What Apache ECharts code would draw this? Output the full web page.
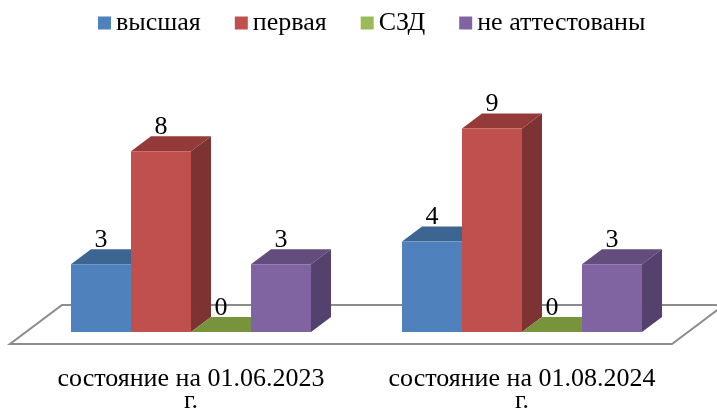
<!DOCTYPE html>
<html>
<head>
<meta charset="utf-8">
<script src="https://cdn.jsdelivr.net/npm/echarts@6/dist/echarts.min.js"></script>
<style>
html,body{margin:0;padding:0;background:#fff;}
#chart{width:717px;height:419px;}
</style>
</head>
<body>
<div id="chart"></div>
<script>
const categories = ['состояние на 01.06.2023 г.', 'состояние на 01.08.2024 г.'];
const seriesNames = ['высшая', 'первая', 'СЗД', 'не аттестованы'];
const vysshaya = [3, 4];
const pervaya = [8, 9];
const szd = [0, 0];
const neAttest = [3, 3];
const seriesValues = [vysshaya, pervaya, szd, neAttest];

const FONT = '"Liberation Serif", "Times New Roman", serif';
const palette = [
  {front: '#4F81BD', top: '#3C6592', side: '#385E8C'},
  {front: '#C0504D', top: '#943B39', side: '#7D3331'},
  {front: '#9BBB59', top: '#77933C', side: '#6B8535'},
  {front: '#8064A2', top: '#624D7D', side: '#54416D'}
];
const DX = 20, DY = 15;

const chart = echarts.init(document.getElementById('chart'), null, {renderer: 'canvas'});

function barRender(sIdx) {
  return function (params, api) {
    const cat = api.value(0), val = api.value(1);
    const base = api.coord([cat, 0]);
    const top = api.coord([cat, val]);
    const band = api.size([1, 0])[0];
    const bw = band * 0.1813;
    const x0 = base[0] - bw * 2 + sIdx * bw;
    const x1 = x0 + bw;
    const yb = base[1], yt = top[1];
    const c = palette[sIdx];
    const children = [];
    children.push({type: 'polygon', shape: {points: [[x0, yt], [x1, yt], [x1 + DX, yt - DY], [x0 + DX, yt - DY]]},
      style: {fill: c.top}});
    if (yb - yt > 0.5) {
      children.push({type: 'polygon', shape: {points: [[x1, yt], [x1 + DX, yt - DY], [x1 + DX, yb - DY], [x1, yb]]},
        style: {fill: c.side}});
      children.push({type: 'rect', shape: {x: x0, y: yt, width: bw, height: yb - yt},
        style: {fill: c.front}});
    }
    children.push({type: 'text', x: (x0 + x1) / 2, y: yt - DY + 4,
      style: {text: String(val), font: '26px ' + FONT, fill: '#000', align: 'center', verticalAlign: 'bottom'}});
    return {type: 'group', children: children};
  };
}

const series = [{
  type: 'custom',
  name: '__floor',
  silent: true,
  data: [[0, 0]],
  z: 1,
  renderItem: function (params, api) {
    const cs = params.coordSys;
    const yb = api.coord([0, 0])[1];
    const xs = cs.x, xe = cs.x + cs.width;
    const pts = [[xs - 15.5, yb + 12], [xe - 15.5, yb + 12], [xe + 36.5, yb - 27], [xs + 36.5, yb - 27]];
    return {type: 'polygon', shape: {points: pts}, style: {fill: '#fff', stroke: '#8C8C8C', lineWidth: 2}};
  }
}];

seriesNames.forEach(function (name, i) {
  series.push({
    type: 'custom',
    name: name,
    z: 2 + i,
    itemStyle: {color: palette[i].front},
    data: seriesValues[i].map(function (v, k) { return [k, v]; }),
    encode: {x: 0, y: 1},
    renderItem: barRender(i)
  });
});

chart.setOption({
  animation: false,
  backgroundColor: '#fff',
  legend: {
    data: seriesNames.map(function (n) { return {name: n, icon: 'rect'}; }),
    left: 93,
    top: 5,
    itemWidth: 13,
    itemHeight: 13,
    itemGap: 34,
    textStyle: {fontFamily: FONT, fontSize: 26, color: '#000'}
  },
  grid: {left: 25.5, right: 29.5, top: 106, bottom: 87, containLabel: false, outerBoundsMode: 'none'},
  xAxis: {
    type: 'category',
    data: categories,
    axisLine: {show: false},
    axisTick: {show: false},
    axisLabel: {
      interval: 0, hideOverlap: false,
      fontFamily: FONT, fontSize: 26, color: '#000', margin: 36, lineHeight: 22,
      formatter: function (v) { return v.replace(' г.', '\nг.'); }
    }
  },
  yAxis: {
    type: 'value', min: 0, max: 10, interval: 1,
    show: false,
    splitLine: {show: false}
  },
  series: series
});
</script>
</body>
</html>
